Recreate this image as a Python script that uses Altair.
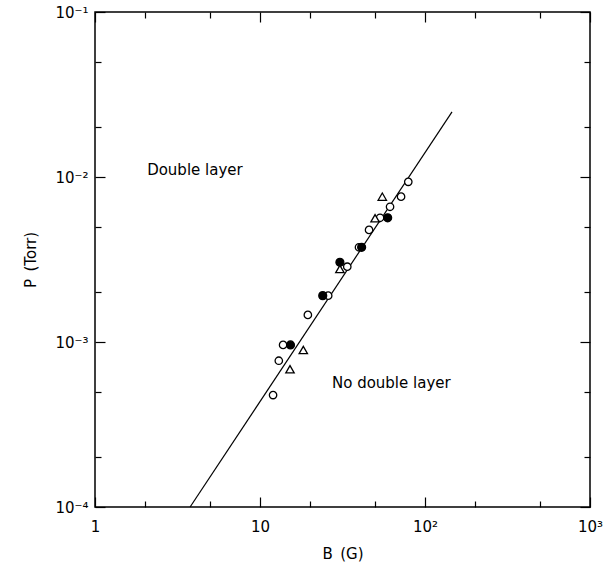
import altair as alt
import pandas as pd

# Data
B_open = [79.2, 71.6, 61.4, 53.4, 45.8, 39.8, 33.8, 25.9, 19.5, 13.8, 13.0, 12.0]
P_open = [0.00935, 0.0076, 0.0066, 0.00566, 0.00478, 0.00375, 0.00286, 0.00191,
          0.00146, 0.00096, 0.00077, 0.000477]
B_filled = [59.4, 41.3, 30.5, 24.0, 15.3]
P_filled = [0.00566, 0.00375, 0.00304, 0.00191, 0.00096]
B_tri = [55.1, 49.8, 30.5, 18.3, 15.2]
P_tri = [0.0076, 0.00562, 0.00277, 0.000895, 0.000684]

fit_B = [3.77, 145.8]
fit_P = [1e-4, 0.0248]

label_text = ["Double layer", "No double layer"]
label_B = [2.07, 27.3]
label_P = [0.011, 0.000565]

x_major = [1, 10, 100, 1000]
x_all = [1, 2, 5, 10, 20, 50, 100, 200, 500, 1000]
y_major = [1e-4, 1e-3, 1e-2, 1e-1]
y_all = [1e-4, 2e-4, 5e-4, 1e-3, 2e-3, 5e-3, 1e-2, 2e-2, 5e-2, 1e-1]

W, H = 495, 495
FONT = "DejaVu Sans"

pts = pd.DataFrame({
    "B": B_open + B_filled + B_tri,
    "P": P_open + P_filled + P_tri,
    "kind": ["open"] * len(B_open) + ["filled"] * len(B_filled) + ["tri"] * len(B_tri),
})
fit = pd.DataFrame({"B": fit_B, "P": fit_P})
labels = pd.DataFrame({"t": label_text, "B": label_B, "P": label_P})

xs = alt.Scale(type="log", domain=[1, 1000], nice=False)
ys = alt.Scale(type="log", domain=[1e-4, 1e-1], nice=False)

major_test = "abs(log(datum.value)/LN10 - round(log(datum.value)/LN10)) < 0.01"
tick_size = {"condition": {"test": major_test, "value": 10}, "value": 6}

x_lab = ("datum.value == 1 ? '1' : datum.value == 10 ? '10' : "
         "datum.value == 100 ? '10\u00b2' : '10\u00b3'")
y_lab = ("datum.value < 0.0005 ? '10\u207b\u2074' : datum.value < 0.005 ? '10\u207b\u00b3' : "
         "datum.value < 0.05 ? '10\u207b\u00b2' : '10\u207b\u00b9'")

# Layer 1: fitted line + labelled axes
line = alt.Chart(fit).mark_line(color="black", strokeWidth=1.2).encode(
    x=alt.X("B:Q", scale=xs, axis=alt.Axis(
        orient="bottom", values=x_major, labelExpr=x_lab, ticks=False, domain=False,
        grid=False, title="B\u2002(G)", labelFontSize=15, labelPadding=12,
        titleFontSize=15, titleFontWeight="normal", titlePadding=12,
        labelFlush=False, labelOverlap=False, labelFont=FONT, titleFont=FONT,
        labelColor="black", titleColor="black")),
    y=alt.Y("P:Q", scale=ys, axis=alt.Axis(
        orient="left", values=y_major, labelExpr=y_lab, ticks=False, domain=False,
        grid=False, title="P\u2002(Torr)", labelFontSize=15, labelPadding=7,
        titleFontSize=15, titleFontWeight="normal", titlePadding=16,
        labelFlush=False, labelOverlap=False, labelFont=FONT, titleFont=FONT,
        labelColor="black", titleColor="black")),
)

# Layer 2: points + inward ticks on bottom/left edges
points = alt.Chart(pts).mark_point(filled=True, strokeWidth=1.3, opacity=1).encode(
    x=alt.X("B:Q", scale=xs, axis=alt.Axis(
        orient="top", offset=-H, values=x_all, labels=False, domain=False, grid=False,
        title=None, tickSize=tick_size, tickColor="black", tickWidth=1.2)),
    y=alt.Y("P:Q", scale=ys, axis=alt.Axis(
        orient="right", offset=-W, values=y_all, labels=False, domain=False, grid=False,
        title=None, tickSize=tick_size, tickColor="black", tickWidth=1.2)),
    shape=alt.Shape("kind:N", scale=alt.Scale(domain=["open", "filled", "tri"],
                                              range=["circle", "circle", "triangle-up"]),
                    legend=None),
    fill=alt.Fill("kind:N", scale=alt.Scale(domain=["open", "filled", "tri"],
                                            range=["white", "black", "white"]),
                  legend=None),
    size=alt.Size("kind:N", scale=alt.Scale(domain=["open", "filled", "tri"],
                                            range=[55, 70, 60]), legend=None),
    stroke=alt.value("black"),
)

# Layer 3: text + inward ticks on top/right edges
text = alt.Chart(labels).mark_text(align="left", baseline="middle", fontSize=15,
                                   font=FONT, color="black").encode(
    x=alt.X("B:Q", scale=xs, axis=alt.Axis(
        orient="bottom", offset=-H, values=x_all, labels=False, domain=False, grid=False,
        title=None, tickSize=tick_size, tickColor="black", tickWidth=1.2)),
    y=alt.Y("P:Q", scale=ys, axis=alt.Axis(
        orient="left", offset=-W, values=y_all, labels=False, domain=False, grid=False,
        title=None, tickSize=tick_size, tickColor="black", tickWidth=1.2)),
    text="t:N",
)

chart = alt.layer(line, points, text).resolve_axis(
    x="independent", y="independent"
).properties(
    width=W, height=H, autosize="none",
    padding={"left": 95, "top": 12, "right": 15, "bottom": 70},
    background="white",
).configure_view(stroke="black", strokeWidth=1.5)

chart.save("out.html", embed_options={"renderer": "svg", "actions": False})
